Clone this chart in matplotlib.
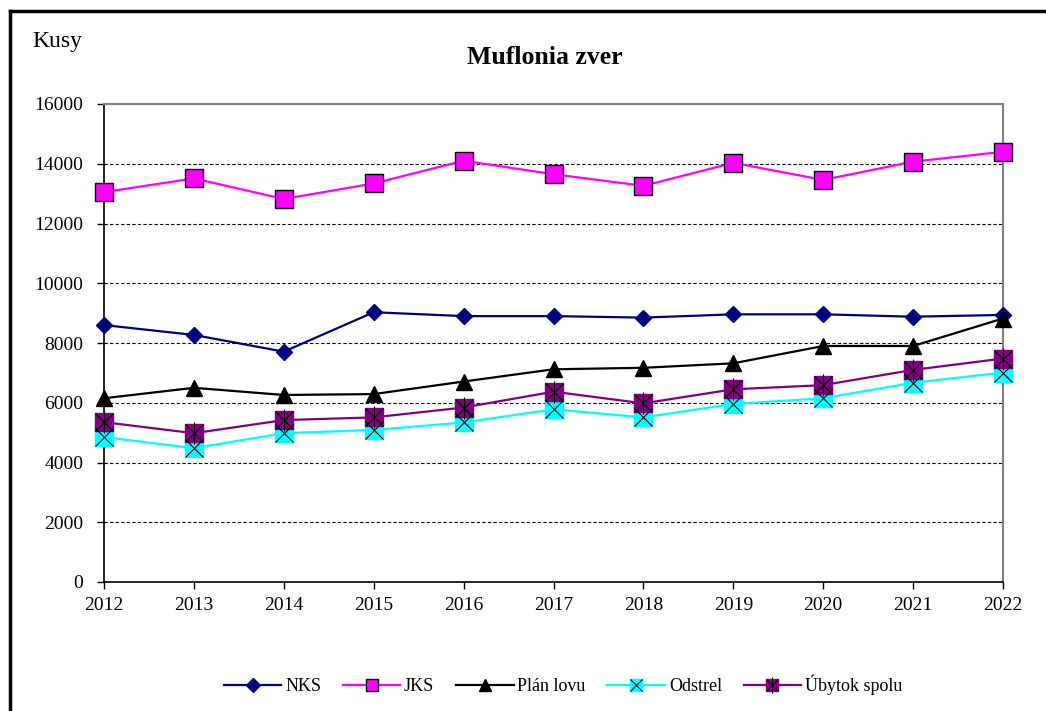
import matplotlib
matplotlib.use("Agg")
import matplotlib.pyplot as plt
from matplotlib.lines import Line2D

plt.rcParams['font.family'] = ['Liberation Serif', 'DejaVu Serif']

roky = [2012, 2013, 2014, 2015, 2016, 2017, 2018, 2019, 2020, 2021, 2022]
nks = [8600, 8270, 7710, 9030, 8900, 8900, 8850, 8960, 8960, 8880, 8940]
jks = [13050, 13510, 12820, 13340, 14100, 13650, 13260, 14030, 13460, 14070, 14400]
plan_lovu = [6150, 6500, 6260, 6290, 6710, 7120, 7170, 7320, 7900, 7900, 8820]
odstrel = [4850, 4480, 4980, 5090, 5340, 5780, 5510, 5960, 6150, 6670, 7010]
ubytok = [5350, 4980, 5420, 5510, 5840, 6370, 5980, 6450, 6590, 7100, 7480]

fig = plt.figure(figsize=(10.46, 7.11), dpi=100)
ax = fig.add_axes([104 / 1046, 1 - 582 / 711, (1003 - 104) / 1046, (582 - 104) / 711])

lw = 1.6
kw = dict(clip_on=False)
# NKS
ax.plot(roky, nks, color='#000080', lw=lw, marker='D', ms=8, mfc='#000080', mec='#000080', zorder=3, **kw)
# JKS
ax.plot(roky, jks, color='#FF00FF', lw=lw, marker='s', ms=13, mfc='#FF00FF', mec='black', mew=1, zorder=3, **kw)
# Plan lovu
ax.plot(roky, plan_lovu, color='black', lw=lw, marker='^', ms=12, mfc='black', mec='black', zorder=3, **kw)
# Odstrel
ax.plot(roky, odstrel, color='#00FFFF', lw=lw, marker='s', ms=13, mfc='#00FFFF', mec='#00FFFF', zorder=3, **kw)
ax.plot(roky, odstrel, ls='none', marker='x', ms=13, mec='black', mew=0.8, zorder=4, **kw)
# Ubytok spolu
ax.plot(roky, ubytok, color='#800080', lw=lw, marker='s', ms=13, mfc='#800080', mec='#800080', zorder=3, **kw)
ax.plot(roky, ubytok, ls='none', marker='x', ms=13, mec='black', mew=0.8, zorder=4, **kw)
ax.plot(roky, ubytok, ls='none', marker='|', ms=16, mec='black', mew=0.8, zorder=4, **kw)

ax.set_xlim(2012, 2022)
ax.set_ylim(0, 16000)
ax.set_xticks(roky)
ax.set_yticks(range(0, 16001, 2000))
ax.yaxis.grid(True, ls=(0, (3, 2)), color='black', lw=0.8)
ax.set_axisbelow(True)
ax.tick_params(axis='both', labelsize=14, direction='out', length=5, width=1, colors='black')
ax.tick_params(axis='x', pad=6)
ax.tick_params(axis='y', pad=10)
for s in ['top', 'right']:
    ax.spines[s].set_color('#808080')
    ax.spines[s].set_linewidth(1.5)
for s in ['left', 'bottom']:
    ax.spines[s].set_color('black')
    ax.spines[s].set_linewidth(1.2)

fig.text(545 / 1046, 1 - 58 / 711, 'Muflonia zver', ha='center', va='center', fontsize=18.5, fontweight='bold')
fig.text(32 / 1046, 1 - 42 / 711, 'Kusy', ha='left', va='center', fontsize=17)

# ramik okolo grafu
fig.add_artist(Line2D([10 / 1046, 1], [1 - 11 / 711, 1 - 11 / 711], color='black', lw=2.5))
fig.add_artist(Line2D([10 / 1046, 10 / 1046], [0, 1 - 11 / 711], color='black', lw=2.5))

h_nks = Line2D([], [], color='#000080', lw=lw, marker='D', ms=7, mfc='#000080', mec='#000080')
h_jks = Line2D([], [], color='#FF00FF', lw=lw, marker='s', ms=9, mfc='#FF00FF', mec='black', mew=1)
h_plan = Line2D([], [], color='black', lw=lw, marker='^', ms=9, mfc='black')
h_ods = (Line2D([], [], color='#00FFFF', lw=lw, marker='s', ms=9, mfc='#00FFFF', mec='#00FFFF'),
         Line2D([], [], ls='none', marker='x', ms=9, mec='black', mew=0.8))
h_uby = (Line2D([], [], color='#800080', lw=lw, marker='s', ms=9, mfc='#800080', mec='#800080'),
         Line2D([], [], ls='none', marker='x', ms=9, mec='black', mew=0.8),
         Line2D([], [], ls='none', marker='|', ms=11, mec='black', mew=0.8))
fig.legend([h_nks, h_jks, h_plan, h_ods, h_uby],
           ['NKS', 'JKS', 'Plán lovu', 'Odstrel', 'Úbytok spolu'],
           loc='center', bbox_to_anchor=(563 / 1046, 1 - 685 / 711), ncol=5, frameon=False,
           fontsize=13, handlelength=3.2, handletextpad=0.2, columnspacing=1.2)

fig.savefig('out.png', dpi=100)
